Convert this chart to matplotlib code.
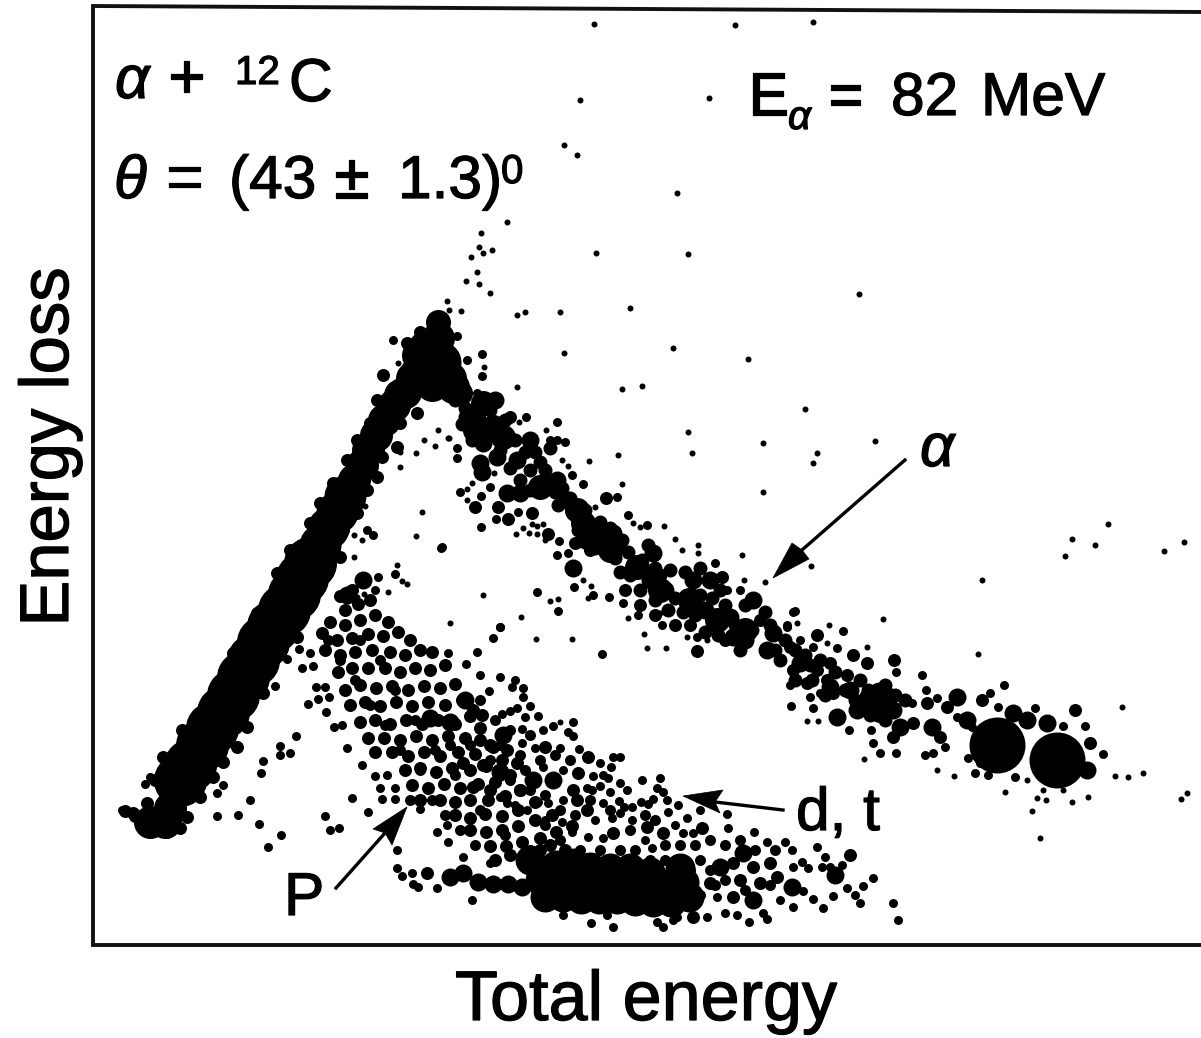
import numpy as np
import matplotlib.pyplot as plt
import matplotlib.patheffects as pe
from matplotlib.patches import Polygon

plt.rcParams['font.family'] = ['Liberation Sans', 'DejaVu Sans']

# counts, in channels (total energy, energy loss)
ridge_lower = [(180, 780), (190, 765), (202, 745), (212, 728), (223, 712), (233, 695), (243, 677), (253, 660),
               (263, 642), (273, 626), (284, 610), (294, 594), (302, 578), (310, 563)]
ridge_middle = [(320, 545), (328, 528), (337, 512), (345, 496), (420, 375), (440, 362), (428, 350)]
ridge_upper = [(354, 480), (362, 465), (368, 450), (376, 435), (384, 420), (394, 405), (405, 392), (412, 378),
               (150, 822), (165, 822), (170, 808), (450, 378), (418, 355), (453, 387), (438, 338), (432, 385),
               (400, 395)]
cluster_cores = [(1057, 760), (997, 745)]
solid_bottom = [(540, 880), (558, 877), (576, 877), (594, 878), (612, 880), (630, 882), (648, 884), (666, 884),
                (684, 882), (545, 897), (563, 897), (581, 899), (599, 899), (617, 899), (635, 901), (653, 902),
                (671, 902), (689, 897), (556, 865), (574, 863), (590, 867), (880, 697), (873, 700), (530, 860),
                (610, 868), (630, 868), (650, 872), (680, 868)]
events_xlarge = [(483, 403), (473, 417), (493, 427), (503, 437), (597, 537), (637, 567), (717, 620), (438, 322),
                 (583, 523), (577, 510), (540, 487), (880, 710), (460, 393), (475, 430), (610, 550), (660, 590),
                 (690, 600), (745, 630)]
events_large = [(495, 400), (483, 443), (480, 463), (497, 457), (517, 460), (530, 440), (520, 493), (557, 480),
                (507, 493), (567, 500), (613, 533), (617, 547), (653, 553), (650, 580), (693, 580), (710, 580),
                (687, 597), (730, 617), (753, 600), (733, 637), (773, 633), (767, 650), (800, 663), (850, 690),
                (893, 710), (467, 417), (483, 433), (482, 472), (363, 580), (347, 595), (573, 568), (463, 873),
                (478, 882), (493, 884), (508, 884), (522, 887), (450, 877), (830, 687), (503, 735), (465, 700),
                (450, 722), (430, 718), (500, 772), (533, 780), (553, 780), (743, 853), (720, 867), (753, 900),
                (792, 887), (835, 875), (900, 727), (837, 717), (857, 710), (1087, 770), (1047, 723), (1027, 720),
                (1013, 713), (967, 720), (957, 697), (932, 727), (585, 540), (665, 590), (705, 610), (745, 640)]
alpha_band_fill = [(455, 400), (465, 408), (462, 424), (472, 440), (490, 410), (505, 420), (500, 450), (515, 440),
                   (510, 468), (525, 452), (530, 470), (545, 470), (540, 462), (535, 452), (550, 448), (520, 480),
                   (530, 490), (545, 480), (555, 492), (562, 488), (570, 498), (558, 505), (572, 512), (585, 510),
                   (590, 530), (600, 522), (578, 530), (605, 545), (595, 548), (610, 528), (622, 540), (615, 558),
                   (628, 552), (630, 575), (642, 560), (648, 545), (620, 572), (640, 590), (655, 568), (660, 575),
                   (655, 600), (670, 570), (675, 598), (685, 572), (668, 610), (683, 612), (700, 568), (700, 595),
                   (695, 615), (712, 598), (720, 590), (705, 632), (718, 635), (725, 605), (735, 625), (745, 605),
                   (740, 650), (752, 630), (765, 612), (775, 650), (770, 625), (785, 640), (780, 660), (795, 650),
                   (810, 665), (795, 680), (805, 655), (820, 660), (812, 680), (825, 695), (835, 672), (845, 690),
                   (860, 680), (855, 700), (868, 690), (885, 685), (895, 695), (870, 715), (885, 720), (905, 700)]
dt_fill = [(510, 730), (530, 735), (520, 755), (540, 760), (555, 755), (570, 760), (530, 790), (545, 795),
           (510, 780), (525, 770), (490, 760), (500, 745), (480, 700), (495, 720), (470, 745), (450, 745),
           (560, 810), (575, 815), (590, 800), (610, 810), (630, 830), (645, 815), (655, 820), (665, 845),
           (680, 845), (695, 845), (710, 840), (725, 845), (740, 840), (620, 850), (600, 850), (580, 850),
           (635, 850), (650, 860), (665, 860), (680, 860), (700, 860), (710, 870), (700, 895), (715, 885),
           (725, 880), (745, 890), (770, 885), (755, 850), (775, 850), (690, 870), (420, 770), (432, 800),
           (445, 815), (460, 830), (475, 845), (410, 800), (400, 750), (385, 725), (370, 705), (355, 680),
           (340, 660), (328, 640), (360, 640), (380, 660), (395, 690), (415, 720), (435, 750), (455, 775),
           (480, 810), (505, 835), (530, 850), (545, 825), (560, 840)]
events_medium = [(340, 596), (352, 590), (345, 610), (358, 604), (370, 600), (330, 622), (345, 625), (360, 620),
                 (375, 615), (388, 622), (322, 633), (337, 640), (352, 638), (368, 634), (383, 636), (398, 632),
                 (410, 640), (325, 650), (340, 655), (355, 652), (372, 650), (390, 652), (405, 655), (420, 650),
                 (432, 652), (338, 672), (352, 668), (368, 668), (385, 668), (400, 672), (415, 668), (430, 670),
                 (445, 665), (345, 690), (360, 685), (376, 688), (392, 686), (408, 690), (424, 686), (440, 688),
                 (455, 684), (350, 705), (365, 702), (380, 706), (396, 702), (412, 706), (428, 702), (445, 705),
                 (462, 700), (360, 722), (375, 720), (390, 724), (406, 720), (422, 724), (438, 720), (455, 724),
                 (470, 716), (368, 738), (384, 738), (400, 740), (416, 736), (432, 740), (448, 736), (465, 738),
                 (480, 728), (375, 752), (392, 752), (408, 756), (424, 752), (440, 756), (458, 752), (475, 754),
                 (490, 745), (405, 770), (420, 768), (436, 772), (452, 768), (470, 770), (486, 766), (502, 760),
                 (412, 785), (428, 788), (444, 784), (460, 788), (478, 784), (495, 782), (510, 775), (440, 800),
                 (455, 802), (470, 800), (488, 800), (505, 796), (520, 790), (455, 815), (470, 818), (485, 814),
                 (502, 816), (518, 810), (535, 802), (470, 830), (486, 832), (502, 830), (518, 826), (535, 820),
                 (552, 815), (490, 846), (506, 846), (522, 842), (540, 838), (556, 832), (572, 826), (510, 855),
                 (525, 860), (495, 860), (540, 850), (550, 845), (565, 850), (420, 800), (427, 873),
                 (257, 613), (248, 630), (233, 653), (223, 677), (207, 700), (182, 730), (163, 757), (155, 780),
                 (147, 803), (133, 813), (297, 637), (263, 693), (247, 727), (237, 747), (223, 762), (213, 777),
                 (200, 797), (187, 817), (180, 828), (167, 832), (153, 831), (277, 573), (290, 550), (310, 523),
                 (320, 503), (333, 483), (347, 460), (357, 440), (370, 423), (377, 400), (383, 375), (407, 343),
                 (420, 332), (340, 557), (343, 530), (357, 513), (367, 490), (377, 477), (382, 457), (397, 447),
                 (400, 423), (417, 413),
                 (607, 550), (590, 550), (625, 590), (640, 605), (655, 615), (675, 625), (690, 625), (700, 610),
                 (725, 640), (760, 620), (790, 647), (827, 680), (817, 635), (853, 655), (867, 663), (830, 663),
                 (817, 670), (807, 683), (793, 670), (833, 693), (847, 675), (894, 660), (893, 737), (913, 723),
                 (927, 703), (947, 707), (940, 737), (1090, 743), (1075, 710), (982, 700), (510, 417), (475, 507),
                 (498, 507), (508, 519), (532, 513), (548, 534), (575, 543), (482, 715), (473, 710), (480, 740),
                 (463, 763), (483, 765), (517, 763), (545, 747), (507, 750), (493, 747), (578, 773), (588, 757),
                 (573, 790), (577, 800), (587, 810), (520, 790), (490, 790), (473, 787), (613, 833), (647, 827),
                 (663, 833), (702, 828), (753, 867), (770, 863), (733, 863), (740, 880), (760, 883), (777, 877),
                 (733, 897), (710, 883), (683, 903), (693, 917), (850, 855), (606, 498), (722, 577), (697, 651),
                 (135, 816), (125, 811), (143, 825)]
events_small = [(299, 649), (302, 668), (313, 666), (310, 653), (275, 686), (316, 687), (325, 687), (318, 699),
                (329, 697), (308, 704), (326, 712), (334, 727), (342, 725), (347, 748), (362, 765), (375, 776),
                (387, 775), (380, 788), (395, 788), (382, 799), (395, 799), (352, 798), (368, 812), (330, 830),
                (339, 828), (325, 816), (296, 736), (280, 746), (280, 755), (290, 753), (263, 761), (261, 773),
                (250, 800), (238, 815), (217, 816), (259, 824), (281, 835), (268, 847), (223, 785), (217, 793),
                (145, 784), (150, 777), (397, 850), (397, 868), (402, 876), (412, 873), (413, 884), (418, 887),
                (437, 888), (437, 832), (448, 842), (447, 825), (420, 809), (472, 900), (463, 857), (490, 863),
                (287, 659), (122, 810),
                (500, 627), (493, 638), (477, 652), (448, 653), (466, 664), (480, 675), (500, 677), (515, 680),
                (512, 687), (489, 691), (523, 688), (523, 697), (530, 706), (510, 711), (502, 714), (517, 708),
                (525, 717), (538, 716), (573, 722), (568, 732), (573, 736), (553, 726), (543, 730), (522, 729),
                (560, 748), (579, 749), (535, 748), (522, 743), (543, 767), (563, 770), (600, 763), (613, 757),
                (620, 757), (611, 767), (593, 776), (603, 775), (608, 778), (587, 788), (600, 786), (592, 790),
                (595, 820), (603, 803), (563, 800), (548, 803), (538, 802), (500, 797), (507, 803), (515, 805),
                (527, 810), (533, 820), (545, 820), (562, 822), (572, 832), (588, 837), (603, 838), (612, 818),
                (632, 820), (620, 813), (620, 783), (610, 792), (627, 790), (642, 780), (660, 778), (657, 788),
                (663, 792), (641, 802), (648, 804), (653, 799), (667, 800), (678, 805), (668, 812), (632, 807),
                (624, 807), (619, 801), (675, 825), (687, 818), (700, 810), (727, 814), (728, 828), (754, 832),
                (693, 833), (683, 833), (645, 840), (652, 848), (785, 842), (792, 850), (817, 847), (825, 857),
                (842, 865), (822, 867), (830, 867), (793, 867), (802, 862), (808, 868), (873, 878), (863, 886),
                (847, 888), (855, 895), (860, 903), (833, 896), (823, 908), (813, 899), (803, 891), (793, 907),
                (893, 903), (898, 920), (767, 842), (780, 900), (725, 913), (707, 917), (737, 915), (749, 922),
                (767, 919), (763, 913), (717, 897), (673, 920), (663, 927), (613, 927), (591, 923), (607, 915),
                (563, 915), (657, 922), (677, 917),
                (557, 422), (550, 440), (557, 440), (565, 442), (572, 475), (583, 484), (526, 417), (457, 448),
                (457, 458), (460, 492), (481, 496), (490, 487), (496, 519), (518, 512), (481, 527), (559, 541),
                (557, 555), (568, 553), (574, 587), (593, 595), (609, 597), (623, 603), (638, 615), (662, 625),
                (697, 637), (537, 592), (558, 611), (500, 627), (602, 654), (442, 547), (617, 497), (628, 515),
                (647, 525), (715, 563), (727, 590), (740, 590), (753, 597), (795, 611), (787, 627), (373, 535),
                (367, 530), (395, 574), (378, 577), (375, 590), (441, 548), (393, 340), (408, 343), (457, 336),
                (482, 354), (467, 360), (482, 376), (477, 393),
                (793, 612), (787, 625), (843, 631), (837, 648), (813, 647), (800, 640), (820, 693), (810, 697),
                (813, 708), (849, 730), (873, 743), (880, 753), (871, 730), (912, 703), (896, 672), (922, 675),
                (926, 690), (937, 698), (945, 747), (933, 753), (925, 755), (1103, 754), (1063, 726), (1085, 726),
                (990, 693), (1004, 685), (998, 707), (957, 717), (972, 727), (975, 773), (988, 775), (980, 763),
                (1015, 777), (1035, 708), (968, 758), (791, 706), (790, 685), (896, 753)]
stray_events = [(594, 24), (735, 25), (813, 22), (580, 100), (709, 98), (564, 145), (577, 155), (677, 193),
                (507, 222), (481, 233), (479, 247), (471, 257), (483, 253), (492, 250), (477, 272), (466, 281),
                (479, 284), (490, 293), (447, 301), (449, 310), (461, 311), (517, 315), (525, 312), (560, 312),
                (630, 308), (596, 253), (688, 254), (859, 294), (564, 353), (673, 348), (748, 359), (517, 387),
                (622, 389), (642, 386), (805, 409), (688, 432), (763, 443), (692, 453), (817, 453), (813, 463),
                (763, 492), (618, 455), (589, 461), (622, 484), (875, 441), (742, 555), (811, 566), (765, 582),
                (744, 580), (1108, 524), (1072, 539), (1095, 545), (1065, 556), (1164, 551), (1184, 542),
                (982, 580), (883, 619), (978, 654), (1122, 707), (1115, 776), (1128, 777), (1143, 773),
                (1181, 799), (1187, 793), (1088, 797), (1072, 802), (1032, 811), (1046, 800), (1005, 792),
                (1040, 838), (1027, 780), (1037, 798), (1043, 790), (1063, 790), (954, 776), (937, 770),
                (864, 759), (867, 647), (829, 625), (818, 721), (807, 721), (546, 430), (519, 422), (448, 438),
                (472, 483), (467, 489), (467, 500), (516, 534), (523, 528), (529, 533), (532, 524), (537, 526),
                (537, 534), (543, 524), (545, 540), (583, 580), (591, 586), (588, 598), (628, 618), (660, 613),
                (644, 634), (647, 648), (666, 648), (687, 637), (707, 640), (483, 595), (550, 601), (558, 599),
                (521, 617), (450, 623), (493, 638), (536, 639), (572, 639), (477, 652), (595, 507), (633, 523),
                (640, 527), (664, 526), (675, 539), (698, 545), (698, 553), (682, 550), (797, 623), (827, 643),
                (422, 512), (416, 536), (397, 565), (402, 581), (407, 584), (388, 592), (435, 446), (400, 452),
                (416, 453), (400, 467), (424, 440), (438, 430), (449, 438), (494, 473), (354, 535), (362, 540),
                (354, 557), (365, 506), (364, 594), (357, 597), (398, 363), (484, 367), (560, 722), (562, 460),
                (568, 466)]

# frame of the plot, the scan is slightly tilted along the top
frame_e = [1201, 93, 93, 1201]
frame_de = [945, 945, 6, 12]

# arrows: tail, tip, two wings, notch
arrow_alpha = [(905, 460), (773, 578), (792, 543), (809, 559), (802, 550)]
arrow_dt = [(783, 810), (683, 796), (723, 790), (720, 813), (715, 802)]
arrow_p = [(336, 888), (407, 807), (373, 829), (392, 845), (385, 833)]

SIZES = [(ridge_lower, 53), (ridge_middle, 42), (ridge_upper, 33), (cluster_cores, 56), (solid_bottom, 30),
         (events_xlarge, 25), (events_large, 18), (alpha_band_fill, 14), (dt_fill, 11), (events_medium, 13),
         (events_small, 9), (stray_events, 6)]


def area(diameter):
    return (diameter * 72 / 100) ** 2


def put(ax, x, y, s, size, **kw):
    # the scan thickens every letter a bit
    ax.text(x, y, s, fontsize=size, va='baseline',
            path_effects=[pe.withStroke(linewidth=0.9, foreground='black')], **kw)


def main():
    fig = plt.figure(figsize=(12.01, 10.38), dpi=100)
    ax = fig.add_axes([0, 0, 1, 1])
    ax.set_xlim(0, 1201)
    ax.set_ylim(1038, 0)
    ax.axis('off')

    ax.plot(frame_e, frame_de, color='#111111', lw=2.8, solid_joinstyle='miter', clip_on=False)

    for points, diameter in SIZES:
        pts = np.array(points)
        ax.scatter(pts[:, 0], pts[:, 1], s=area(diameter), color='black', linewidths=0)

    for tail, tip, wing1, wing2, notch in [arrow_alpha, arrow_dt, arrow_p]:
        ax.plot([tail[0], notch[0]], [tail[1], notch[1]], color='black', lw=2.4)
        ax.add_patch(Polygon([tip, wing1, notch, wing2], closed=True, fc='black', ec='black', lw=0.5))

    big = 43.5
    put(ax, 455, 1020, 'Total energy', 50.5)
    put(ax, 68, 447, 'Energy loss', 49.5, rotation=90, rotation_mode='anchor', ha='center')

    put(ax, 115, 98, '\u03b1', big, style='italic')
    put(ax, 168, 98, '+', 46)
    put(ax, 235, 84, '12', 29)
    put(ax, 289, 101, 'C', big)

    put(ax, 114, 198, '\u03b8', big, style='italic')
    put(ax, 166, 198, '=', 46)
    put(ax, 229, 198, '(43', big)
    put(ax, 334, 198, '\u00b1', 46)
    put(ax, 398, 198, '1.3)', big)
    put(ax, 501, 183, '0', 29)

    put(ax, 748, 115, 'E', big)
    put(ax, 788, 129, '\u03b1', 29, style='italic')
    put(ax, 828, 115, '=', big)
    put(ax, 891, 115, '82', big)
    put(ax, 981, 115, 'MeV', big)

    put(ax, 920, 466, '\u03b1', big, style='italic')
    put(ax, 796, 830, 'd, t', big)
    put(ax, 284, 915, 'P', big)

    fig.savefig('out.png', dpi=100)


if __name__ == "__main__":
    main()
